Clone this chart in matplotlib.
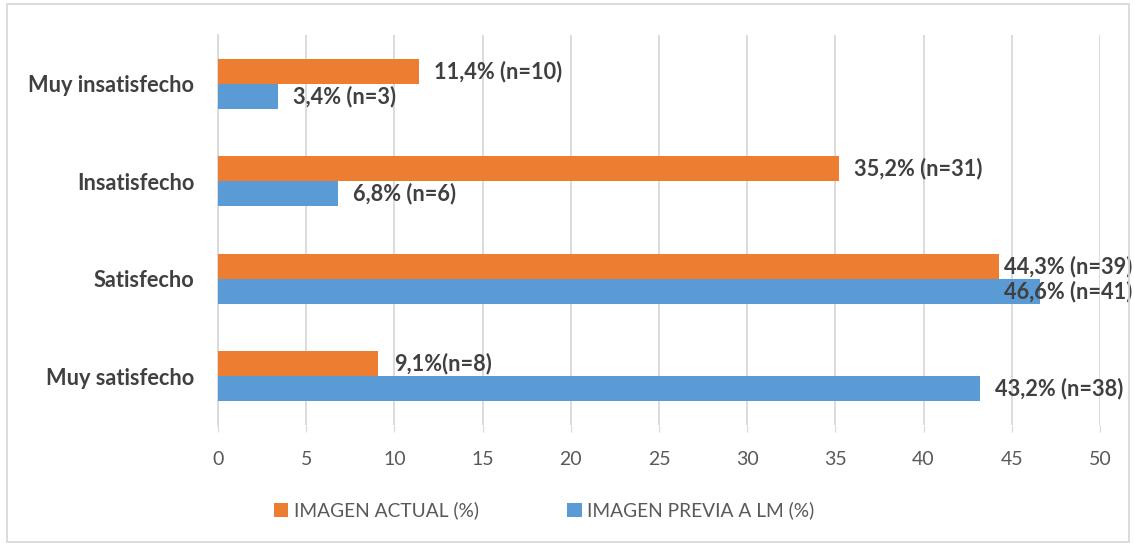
import numpy as np
import matplotlib.pyplot as plt
from matplotlib.patches import Rectangle

plt.rcParams['font.family'] = ['Lato', 'DejaVu Sans']

categories = ['Muy satisfecho', 'Satisfecho', 'Insatisfecho', 'Muy insatisfecho']
actual = [9.1, 44.3, 35.2, 11.4]
previa = [43.2, 46.6, 6.8, 3.4]
actual_labels = ['9,1%(n=8)', '44,3% (n=39)', '35,2% (n=31)', '11,4% (n=10)']
previa_labels = ['43,2% (n=38)', '46,6% (n=41)', '6,8% (n=6)', '3,4% (n=3)']
xticks = [0, 5, 10, 15, 20, 25, 30, 35, 40, 45, 50]

orange = '#ed7d31'
blue = '#5b9bd5'
dark = '#404040'
grey = '#595959'
gridc = '#d9d9d9'

fig = plt.figure(figsize=(11.34, 5.44), dpi=100)
ax = fig.add_axes([0.1922, 0.2188, 0.7778, 0.7169])

y = np.arange(len(categories))
h = 0.255
ax.barh(y + h / 2, actual, h, color=orange, label='IMAGEN ACTUAL (%)', zorder=3)
ax.barh(y - h / 2, previa, h, color=blue, label='IMAGEN PREVIA A LM (%)', zorder=3)

# data labels; the Satisfecho pair is pulled back so it fits
for i in range(len(categories)):
    xa, xp = actual[i], previa[i]
    off_a, off_p = 11, 11
    if categories[i] == 'Satisfecho':
        xp = xa
        off_a, off_p = 3, 3
    ax.annotate(actual_labels[i], (xa, y[i] + h / 2), xytext=(off_a, 0),
                textcoords='offset points', va='center', ha='left',
                fontsize=15.7, fontweight='bold', color=dark, zorder=4)
    ax.annotate(previa_labels[i], (xp, y[i] - h / 2), xytext=(off_p, 0),
                textcoords='offset points', va='center', ha='left',
                fontsize=15.7, fontweight='bold', color=dark, zorder=4)

ax.set_xlim(0, 50)
ax.set_ylim(-0.5, 3.5)
ax.set_xticks(xticks)
ax.set_xticklabels([str(t) for t in xticks], fontsize=14, color=grey)
ax.set_yticks(y)
ax.set_yticklabels(categories, fontsize=15.7, fontweight='bold', color=dark)
ax.tick_params(axis='y', length=0, pad=17)
ax.tick_params(axis='x', length=5, color=gridc, pad=14)
ax.grid(axis='x', color=gridc, linewidth=1.3, zorder=0)
ax.set_axisbelow(True)
for s in ['top', 'right', 'bottom']:
    ax.spines[s].set_visible(False)
ax.spines['left'].set_color(gridc)
ax.spines['left'].set_linewidth(1.3)

fig.legend(loc='center', bbox_to_anchor=(0.48, 0.062), ncols=2, frameon=False,
           fontsize=13.8, labelcolor=grey, handlelength=0.75, handleheight=0.75,
           handletextpad=0.3, columnspacing=4.6)

fig.patches.append(Rectangle((0.006, 0.004), 0.99, 0.988, transform=fig.transFigure,
                             fill=False, edgecolor=gridc, linewidth=1.3))

fig.savefig('out.png', dpi=100, facecolor='white')
